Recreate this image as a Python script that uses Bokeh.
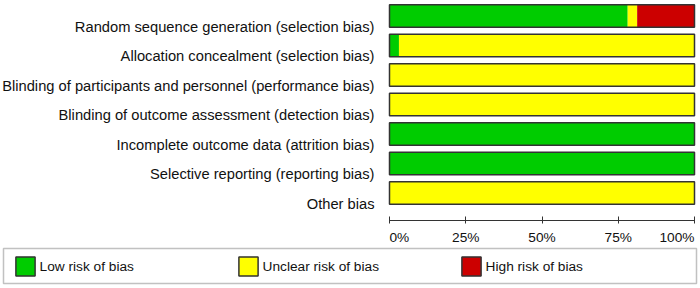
import numpy as np
from bokeh.plotting import figure
from bokeh.models import (ColumnDataSource, Range1d, LinearAxis, FixedTicker,
                          Legend, LegendItem, BoxAnnotation)
from bokeh.core.properties import value
from bokeh.embed import file_html
from bokeh.resources import INLINE

# ---------------- data ----------------
categories = [
    "Random sequence generation (selection bias)",
    "Allocation concealment (selection bias)",
    "Blinding of participants and personnel (performance bias)",
    "Blinding of outcome assessment (detection bias)",
    "Incomplete outcome data (attrition bias)",
    "Selective reporting (reporting bias)",
    "Other bias",
]
low_risk = [78.1, 3.1, 0.0, 0.0, 100.0, 100.0, 0.0]
unclear_risk = [3.1, 96.9, 100.0, 100.0, 0.0, 0.0, 100.0]
high_risk = [18.8, 0.0, 0.0, 0.0, 0.0, 0.0, 0.0]
tick_values = [0, 25, 50, 75, 100]
tick_labels = ["0%", "25%", "50%", "75%", "100%"]
legend_labels = ["Low risk of bias", "Unclear risk of bias", "High risk of bias"]

# ---------------- style / layout ----------------
colors = ["#00cc00", "#ffff00", "#cc0000"]
edge = "#333333"
text_color = "#111111"
font = value("Liberation Sans")

W, H = 700, 288
X0_PX, X1_PX = 389, 694          # pixel span of 0%..100%
ROW0_PX, ROW_PX = 15.5, 29.5     # first row centre and row pitch (pixels)
AXIS_PX = 220                    # pixel row of the x axis line

ppu = (X1_PX - X0_PX) / 100.0
x_range = Range1d(-X0_PX / ppu, (W - X0_PX) / ppu)
y_range = Range1d((H - ROW0_PX) / ROW_PX, -ROW0_PX / ROW_PX)
axis_y = (AXIS_PX - ROW0_PX) / ROW_PX

p = figure(width=W, height=H, x_range=x_range, y_range=y_range,
           output_backend="svg", toolbar_location=None, min_border=0,
           x_axis_type=None, y_axis_type=None, outline_line_color=None,
           background_fill_color="white", border_fill_color="white")

low = np.array(low_risk)
unc = np.array(unclear_risk)
high = np.array(high_risk)
src = ColumnDataSource(dict(
    y=np.arange(len(categories)), cat=categories,
    l0=np.zeros(len(categories)), l1=low,
    u0=low, u1=low + unc,
    h0=low + unc, h1=low + unc + high,
))

bar_h = 0.76
seg_renderers = []
for (a, b), c in zip([("l0", "l1"), ("u0", "u1"), ("h0", "h1")], colors):
    r = p.hbar(y="y", left=a, right=b, height=bar_h, source=src,
               fill_color=c, line_color=None)
    seg_renderers.append(r)

r_outline = p.hbar(y="y", left="l0", right="h1", height=bar_h, source=src,
                   fill_color=None, line_color=edge, line_width=1.5)

# category labels
p.text(x="l0", y="y", text="cat", source=src, text_align="right",
       text_baseline="alphabetic", x_offset=-15, y_offset=10.5,
       text_font=font, text_font_size="14.7px", text_color=text_color)

# x axis (line + ticks)
ax = LinearAxis(fixed_location=axis_y,
                ticker=FixedTicker(ticks=tick_values, minor_ticks=[]),
                bounds=(0, 100), major_tick_in=4, major_tick_out=3,
                minor_tick_line_color=None, axis_line_color=edge,
                major_tick_line_color=edge, major_label_text_color=None)
p.add_layout(ax, "below")

# tick labels: first left-aligned, last right-aligned
n = len(tick_values)
aligns = ["left"] + ["center"] * (n - 2) + ["right"]
tsrc = ColumnDataSource(dict(x=tick_values, text=tick_labels, align=aligns))
p.text(x="x", y=axis_y, text="text", source=tsrc, text_align="align",
       text_baseline="alphabetic", y_offset=16.5,
       text_font=font, text_font_size="13.7px", text_color=text_color)

# legend
items = [LegendItem(label=lab, renderers=[r, r_outline])
         for lab, r in zip(legend_labels, seg_renderers)]
leg = Legend(items=items, orientation="horizontal", location=(12.6, 10),
             glyph_width=24, glyph_height=24, label_height=24, label_width=120,
             label_standoff=3, spacing=76, padding=0, margin=0,
             border_line_color=None, background_fill_alpha=0,
             label_text_font="Liberation Sans", label_text_font_size="13.7px",
             label_text_color=text_color)
p.add_layout(leg, "center")

box = BoxAnnotation(left=3, right=696, top=248, bottom=283,
                    left_units="canvas", right_units="canvas",
                    top_units="canvas", bottom_units="canvas",
                    fill_color=None, line_color=edge, line_width=1.5)
p.add_layout(box)

open("out.html", "w").write(file_html(p, INLINE))
